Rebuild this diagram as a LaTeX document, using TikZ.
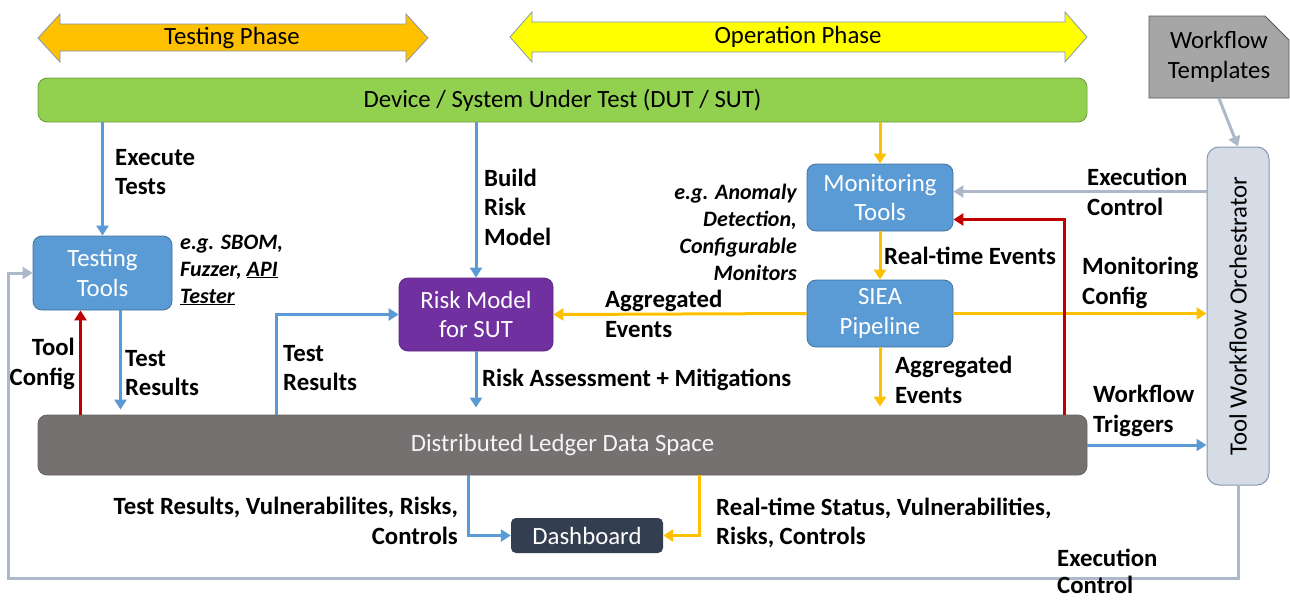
\documentclass[tikz,border=0pt]{standalone}
\usepackage{fontspec}
\setmainfont{Carlito}
\usetikzlibrary{arrows.meta,calc,shapes.misc}

\definecolor{cBlue}{HTML}{5B9BD5}
\definecolor{cBlueDk}{HTML}{41719C}
\definecolor{cOrange}{HTML}{FFC000}
\definecolor{cYellow}{HTML}{FFFF00}
\definecolor{cRed}{HTML}{C00000}
\definecolor{cGrayBlue}{HTML}{ADB9CA}
\definecolor{cFrame}{HTML}{8497B0}
\definecolor{cGreen}{HTML}{92D050}
\definecolor{cGreenDk}{HTML}{6E9E3C}
\definecolor{cPurple}{HTML}{7030A0}
\definecolor{cLedger}{HTML}{767171}
\definecolor{cDash}{HTML}{333F50}
\definecolor{cOrch}{HTML}{D6DCE5}
\definecolor{cTpl}{HTML}{A6A6A6}

\tikzset{
  boxtext/.style={font=\fontsize{24.8}{29.5}\selectfont},
  box/.style={rectangle, rounded corners=9pt, inner sep=0pt, align=center, boxtext},
  tool/.style={box, fill=cBlue, draw=cBlueDk, line width=0.8pt, text=white},
  phasearrow/.style={draw=cFrame, line width=0.8pt, line join=miter},
  lbl/.style={inner sep=0pt, font=\bfseries\fontsize{24.8}{29.5}\selectfont},
  note/.style={inner sep=0pt, font=\bfseries\itshape\fontsize{22}{27}\selectfont},
  flow/.style={line width=3pt, -{Triangle[length=10pt,width=12pt]}},
  bflow/.style={flow, draw=cBlue},
  oflow/.style={flow, draw=cOrange},
  rflow/.style={flow, draw=cRed},
  gflow/.style={flow, draw=cGrayBlue},
}

\begin{document}
\begin{tikzpicture}[x=1pt,y=-1pt]
\useasboundingbox (0,0) rectangle (1290,600);

% phase banners
\draw[phasearrow, fill=cOrange] (38,38) -- (60,14) -- (60,24) -- (406,24) -- (406,14)
  -- (428,38) -- (406,62) -- (406,51) -- (60,51) -- (60,62) -- cycle;
\node[boxtext, inner sep=0pt] (tphase) at (232,38) {Testing Phase};
\draw[phasearrow, fill=cYellow] (510,37) -- (532,12) -- (532,22) -- (1065,22) -- (1065,12)
  -- (1087,37) -- (1065,62) -- (1065,52) -- (532,52) -- (532,62) -- cycle;
\node[boxtext, inner sep=0pt] (ophase) at (798,37) {Operation Phase};

% main blocks
\node[box, fill=cGreen, draw=cGreenDk, line width=0.8pt, minimum width=1049pt, minimum height=44pt]
  (dut) at (562.5,100) {Device / System Under Test (DUT / SUT)};
\node[box, fill=cLedger, draw=cLedger!85!black, line width=0.8pt, text=white!92!gray,
  minimum width=1049pt, minimum height=60pt] (ledger) at (562.5,445) {Distributed Ledger Data Space};
\node[tool, minimum width=139pt, minimum height=74pt] (tt) at (102.5,273) {Testing\\Tools};
\node[box, fill=cPurple, draw=cPurple!80!black, line width=0.8pt, text=white,
  minimum width=154pt, minimum height=73pt] (risk) at (476,314.5) {Risk Model\\for SUT};
\node[tool, minimum width=146pt, minimum height=67pt] (mon) at (880,197.5) {Monitoring\\Tools};
\node[tool, minimum width=146pt, minimum height=67pt] (siea) at (880,313.5) {SIEA\\Pipeline};
\node[box, rounded corners=5pt, fill=cDash, text=white, minimum width=152pt, minimum height=35pt]
  (dash) at (587,535.5) {Dashboard};
\node[box, rounded corners=12pt, fill=cOrch, draw=cFrame, line width=1pt,
  minimum width=62pt, minimum height=338pt] (orch) at (1238,316)
  {\rotatebox{90}{Tool Workflow Orchestrator}};
\node[chamfered rectangle, chamfered rectangle corners=north east,
  chamfered rectangle xsep=12pt, chamfered rectangle ysep=12pt, inner sep=0pt,
  fill=cTpl, draw=black!65, line width=0.8pt, align=center, boxtext,
  minimum width=140pt, minimum height=82pt] (wft) at (1219,57) {Workflow\\Templates};

% helper points on the block borders
\path ($(mon.east)+(0,-6)$) coordinate (ecin)
      ($(mon.east)+(0,22)$) coordinate (cfgin)
      ($(ledger.north west)+(1027,0)$) coordinate (cfgout)
      ($(tt.south)+(18,0)$) coordinate (trout)
      ($(tt.south)+(-22,0)$) coordinate (tcin)
      ($(ledger.north west)+(239,0)$) coordinate (trup)
      ($(ledger.south west)+(431,0)$) coordinate (dbl)
      ($(ledger.south west)+(662,0)$) coordinate (dbr)
      ($(orch.south)+(-1230,93)$) coordinate (loop);

% connectors
\draw[bflow] (tt.north |- dut.south) -- (tt.north);
\draw[bflow] (risk.north |- dut.south) -- (risk.north);
\draw[oflow] (mon.north |- dut.south) -- (mon.north);
\draw[oflow] (mon.south) -- (siea.north);
\draw[oflow] (siea.west) -- (risk.east);
\draw[oflow] (siea.east) -- (siea.east -| orch.west);
\draw[oflow, shorten >=8pt] (siea.south) -- (siea.south |- ledger.north);
\draw[rflow] (cfgout) |- (cfgin);
\draw[gflow] (ecin -| orch.west) -- (ecin);
\draw[bflow] (ledger.east) -- (ledger.east -| orch.west);
\draw[bflow, shorten >=5pt] (trout) -- (trout |- ledger.north);
\draw[rflow] (tcin |- ledger.north) -- (tcin);
\draw[bflow] (trup) |- (risk.west);
\draw[bflow, shorten >=7pt] (risk.south) -- (risk.south |- ledger.north);
\draw[bflow] (dbl) |- (dash.west);
\draw[oflow] (dbr) |- (dash.east);
\draw[gflow] (orch.south) |- (loop) |- (tt.west);
\draw[gflow] (wft.south) -- (orch.north);

% connector labels
\node[lbl, anchor=west, align=left] (l1) at (115,172) {Execute\\Tests};
\node[lbl, anchor=west, align=left] (l2) at (484,207) {Build\\Risk\\Model};
\node[note, anchor=west, align=left] (n1) at (180,270) {e.g. SBOM,\\Fuzzer, \underline{API}\\\underline{Tester}};
\node[note, anchor=east, align=right] (n2) at (797,232) {e.g. Anomaly\\Detection,\\Configurable\\Monitors};
\node[lbl, anchor=west] (l3) at (884,256) {Real-time Events};
\node[lbl, anchor=west, align=left] (l4) at (605,314) {Aggregated\\Events};
\node[lbl, anchor=west, align=left] (l5) at (1087,192) {Execution\\Control};
\node[lbl, anchor=west, align=left] (l6) at (1082,283) {Monitoring\\Config};
\node[lbl, anchor=west, align=left] (l7) at (895,380) {Aggregated\\Events};
\node[lbl, anchor=west, align=left] (l8) at (1093,411) {Workflow\\Triggers};
\node[lbl, anchor=east, align=right] (l9) at (75,364) {Tool\\Config};
\node[lbl, anchor=west, align=left] (l10) at (125,373) {Test\\Results};
\node[lbl, anchor=west, align=left] (l11) at (283,368) {Test\\Results};
\node[lbl, anchor=west] (l12) at (482,380) {Risk Assessment + Mitigations};
\node[lbl, anchor=east, align=right] (l13) at (458,521) {Test Results, Vulnerabilites, Risks,\\Controls};
\node[lbl, anchor=west, align=left] (l14) at (716,523) {Real-time Status, Vulnerabilities,\\Risks, Controls};
\node[lbl, anchor=west, align=left, font=\bfseries\fontsize{24.8}{27}\selectfont] (l15) at (1057,571) {Execution\\Control};
\end{tikzpicture}
\end{document}
